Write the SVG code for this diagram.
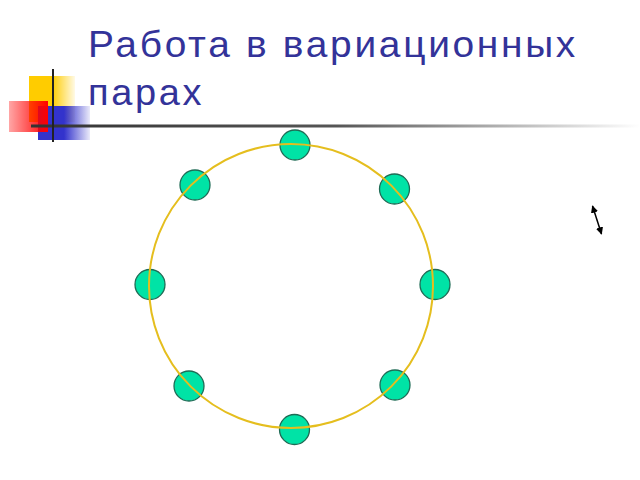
<svg xmlns="http://www.w3.org/2000/svg" width="640" height="480" viewBox="0 0 640 480">
<style>
.title{font-family:"Liberation Sans",Arial,sans-serif;font-size:36px;letter-spacing:2.5px;fill:#333399}
.node{fill:#00E3A6;stroke:#1F6B55;stroke-width:1.3}
.ring{fill:none;stroke:#E5BE1E;stroke-width:2}
</style>
<defs>
<linearGradient id="gy" x1="0" y1="0" x2="1" y2="0"><stop offset="0" stop-color="#FFCC00"/><stop offset="0.5" stop-color="#FFCC00"/><stop offset="1" stop-color="#FFCC00" stop-opacity="0.1"/></linearGradient>
<linearGradient id="gr" x1="0" y1="0" x2="1" y2="0"><stop offset="0" stop-color="#FF0000" stop-opacity="0.35"/><stop offset="1" stop-color="#FF0000"/></linearGradient>
<linearGradient id="gb" x1="0" y1="0" x2="1" y2="0"><stop offset="0" stop-color="#3333CC"/><stop offset="0.5" stop-color="#3333CC"/><stop offset="1" stop-color="#3333CC" stop-opacity="0.1"/></linearGradient>
<linearGradient id="gl" x1="0" y1="0" x2="1" y2="0"><stop offset="0" stop-color="#333333"/><stop offset="0.5" stop-color="#555555"/><stop offset="1" stop-color="#FFFFFF"/></linearGradient>
<marker id="ah" viewBox="0 0 10 10" refX="9" refY="5" markerWidth="5" markerHeight="5" orient="auto-start-reverse"><path d="M0,0 L10,5 L0,10 z" fill="#000"/></marker>
</defs>
<g id="decor">
<rect x="29" y="76" width="46" height="46" fill="url(#gy)"/>
<rect x="38" y="106" width="52" height="34" fill="url(#gb)"/>
<rect x="9" y="101" width="39" height="31" fill="url(#gr)"/>
<rect x="31" y="124.5" width="609" height="3" fill="url(#gl)"/>
<line x1="53" y1="69" x2="53" y2="142" stroke="#222" stroke-width="2"/>
</g>
<g id="title">
<text class="title" x="88" y="57" textLength="490" lengthAdjust="spacingAndGlyphs">Работа в вариационных</text>
<text class="title" x="88" y="105" textLength="116" lengthAdjust="spacingAndGlyphs">парах</text>
</g>
<g id="nodes">
<circle id="n1" class="node" cx="295" cy="145" r="15"/>
<circle id="n2" class="node" cx="195" cy="185" r="15"/>
<circle id="n3" class="node" cx="394.5" cy="189" r="15"/>
<circle id="n4" class="node" cx="150" cy="284.5" r="15"/>
<circle id="n5" class="node" cx="435" cy="284.5" r="15"/>
<circle id="n6" class="node" cx="189" cy="386" r="15"/>
<circle id="n7" class="node" cx="395" cy="385" r="15"/>
<circle id="n8" class="node" cx="294.5" cy="429.5" r="15"/>
</g>
<g id="connectors">
<circle class="ring" cx="291" cy="286" r="142"/>
<line x1="592.5" y1="206" x2="601.5" y2="234" stroke="#000" stroke-width="1.5" marker-start="url(#ah)" marker-end="url(#ah)"/>
</g>
</svg>
